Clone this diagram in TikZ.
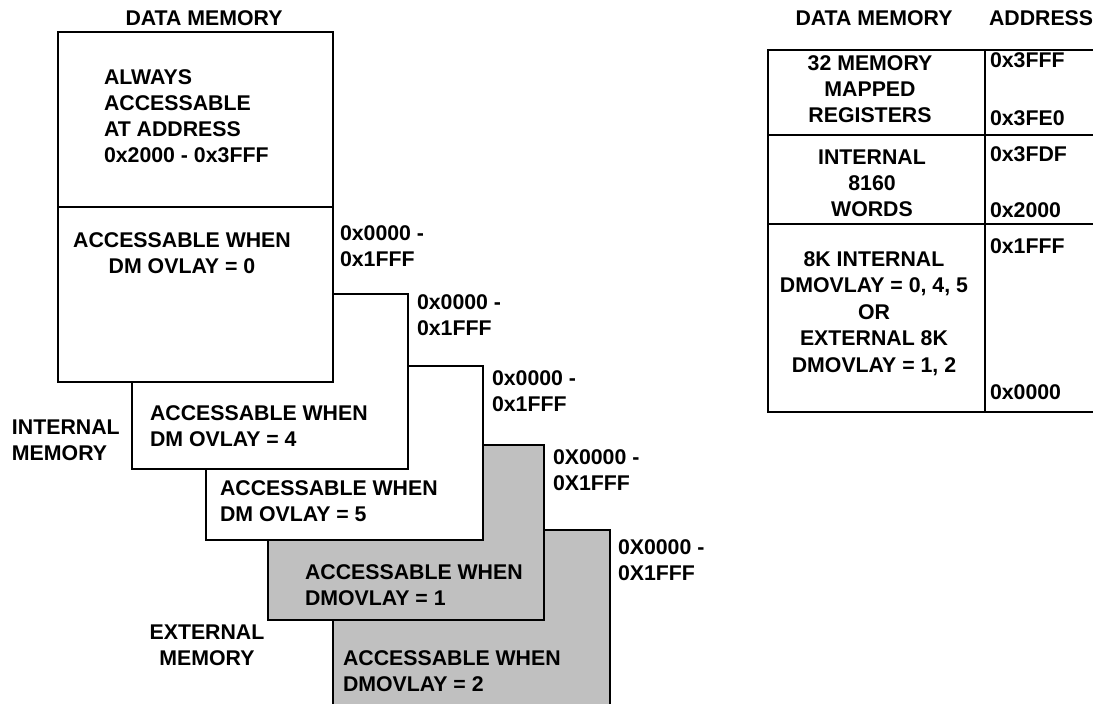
\documentclass[tikz,border=0pt]{standalone}
\usepackage{fontspec}
\setmainfont{Liberation Sans}
\definecolor{boxgray}{RGB}{192,192,192}
\begin{document}
\begin{tikzpicture}[x=1pt,y=-1pt,
  every node/.style={inner sep=0pt, outer sep=0pt},
  lbl/.style={font=\bfseries\fontsize{21.3}{26}\selectfont},
  membox/.style={draw=black, line width=2.8pt, fill=white, anchor=north west},
  extbox/.style={membox, fill=boxgray}
]
\useasboundingbox (0,0) rectangle (1093,704);

% ---- stacked boxes (back to front) ----
\node[extbox, minimum width=277pt, minimum height=200pt] (b5) at (333,530) {};
\node[extbox, minimum width=276pt, minimum height=175pt] (b4) at (268,445) {};
\node[membox, minimum width=277pt, minimum height=174pt] (b3) at (206,366) {};
\node[membox, minimum width=276pt, minimum height=175pt] (b2) at (132,294) {};
\node[membox, minimum width=275pt, minimum height=175pt] (b1top) at (58,32) {};
\node[membox, minimum width=275pt, minimum height=175pt] (b1bot) at (58,207) {};

% ---- titles ----
\node[lbl, anchor=north] (titleL) at (204,10.5) {DATA MEMORY};

% ---- box texts ----
\node[lbl, anchor=north west, align=left] (t1) at (104,69.5) {ALWAYS\\ACCESSABLE\\AT ADDRESS\\0x2000 - 0x3FFF};
\node[lbl, anchor=north, align=center] (t0) at (182,232.5) {ACCESSABLE WHEN\\DM OVLAY = 0};
\node[lbl, anchor=north west, align=left] (t4) at (150,405.5) {ACCESSABLE WHEN\\DM OVLAY = 4};
\node[lbl, anchor=north west, align=left] (t5) at (220,480.5) {ACCESSABLE WHEN\\DM OVLAY = 5};
\node[lbl, anchor=north west, align=left] (te1) at (305,564.5) {ACCESSABLE WHEN\\DMOVLAY = 1};
\node[lbl, anchor=north west, align=left] (te2) at (343,650.5) {ACCESSABLE WHEN\\DMOVLAY = 2};

% ---- side labels ----
\node[lbl, anchor=north west, align=left] (intl) at (12,419.5) {INTERNAL\\MEMORY};
\node[lbl, anchor=north, align=center] (extl) at (207,625) {EXTERNAL\\MEMORY};

% ---- address labels ----
\node[lbl, anchor=north west, align=left] (a0) at (340,225.5) {0x0000 -\\0x1FFF};
\node[lbl, anchor=north west, align=left] (a4) at (417,294.5) {0x0000 -\\0x1FFF};
\node[lbl, anchor=north west, align=left] (a5) at (492,370.5) {0x0000 -\\0x1FFF};
\node[lbl, anchor=north west, align=left] (ae1) at (553,449.5) {0X0000 -\\0X1FFF};
\node[lbl, anchor=north west, align=left] (ae2) at (618,539.5) {0X0000 -\\0X1FFF};

% ---- right table ----
\node[lbl, anchor=north] (titleR) at (874,10.5) {DATA MEMORY};
\node[lbl, anchor=north west] (addrT) at (989,10.5) {ADDRESS};

\node[membox, minimum width=217pt, minimum height=85pt] (r1) at (768,50) {};
\node[membox, minimum width=217pt, minimum height=89pt] (r2) at (768,135) {};
\node[membox, minimum width=217pt, minimum height=188pt] (r3) at (768,224) {};
\node[membox, minimum width=130pt, minimum height=85pt] (c1) at (985,50) {};
\node[membox, minimum width=130pt, minimum height=89pt] (c2) at (985,135) {};
\node[membox, minimum width=130pt, minimum height=188pt] (c3) at (985,224) {};

\node[lbl, anchor=north, align=center] (r1t) at (870,55.5) {32 MEMORY\\MAPPED\\REGISTERS};
\node[lbl, anchor=north, align=center] (r2t) at (872,149.5) {INTERNAL\\8160\\WORDS};
\node[lbl, font=\bfseries\fontsize{21.3}{26.5}\selectfont, anchor=north, align=center] (r3t) at (874,251.5) {8K INTERNAL\\DMOVLAY = 0, 4, 5\\OR\\EXTERNAL 8K\\DMOVLAY = 1, 2};

\node[lbl, anchor=north west] (ad1) at (990,52.5) {0x3FFF};
\node[lbl, anchor=north west] (ad2) at (990,110.5) {0x3FE0};
\node[lbl, anchor=north west] (ad3) at (990,146.5) {0x3FDF};
\node[lbl, anchor=north west] (ad4) at (990,202.5) {0x2000};
\node[lbl, anchor=north west] (ad5) at (990,238.5) {0x1FFF};
\node[lbl, anchor=north west] (ad6) at (990,384.5) {0x0000};
\end{tikzpicture}
\end{document}
